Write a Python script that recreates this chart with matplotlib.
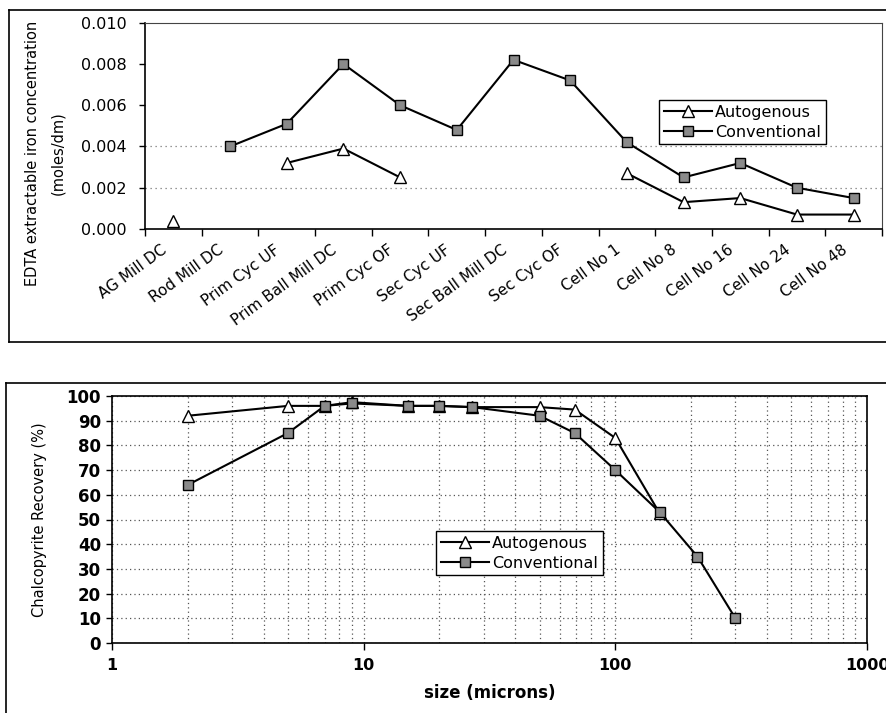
import numpy as np
import matplotlib
matplotlib.use('Agg')
import matplotlib.pyplot as plt
from matplotlib.lines import Line2D
from matplotlib.transforms import ScaledTranslation
from matplotlib.ticker import LogLocator, NullFormatter, FixedLocator, FuncFormatter

plt.rcParams['font.family'] = ['DejaVu Sans']

nan = np.nan

# EDTA extractable iron along the circuit (moles/dm)
stages = ['AG Mill DC', 'Rod Mill DC', 'Prim Cyc UF', 'Prim Ball Mill DC', 'Prim Cyc OF',
          'Sec Cyc UF', 'Sec Ball Mill DC', 'Sec Cyc OF', 'Cell No 1', 'Cell No 8',
          'Cell No 16', 'Cell No 24', 'Cell No 48']
iron_autogenous = [0.0004, nan, 0.0032, 0.0039, 0.0025, nan, nan, nan,
                   0.0027, 0.0013, 0.0015, 0.0007, 0.0007]
iron_conventional = [nan, 0.0040, 0.0051, 0.0080, 0.0060, 0.0048, 0.0082, 0.0072,
                     0.0042, 0.0025, 0.0032, 0.0020, 0.0015]
iron_ticks = [0.000, 0.002, 0.004, 0.006, 0.008, 0.010]

# chalcopyrite recovery by size
size_autogenous = [2, 5, 7, 9, 15, 20, 27, 50, 69, 100, 150]
rec_autogenous = [92, 96, 96, 97.5, 96, 96, 95.5, 95.5, 94.5, 83, 52.5]
size_conventional = [2, 5, 7, 9, 15, 20, 27, 50, 69, 100, 150, 212, 300]
rec_conventional = [64, 85, 96, 97, 96, 96, 95.5, 92, 85, 70, 53, 35, 10]

W, H = 887, 713
fig = plt.figure(figsize=(W / 100, H / 100), dpi=100)


def box(x0, y0, x1, y1):
    # pixel box (top-left origin) -> figure fraction rect
    return [x0 / W, 1 - y1 / H, (x1 - x0) / W, (y1 - y0) / H]


def fline(xs, ys, lw=1.2):
    fig.add_artist(Line2D([x / W for x in xs], [1 - y / H for y in ys],
                          color='black', lw=lw, transform=fig.transFigure))


# outer frames around the two charts
fline([9.5, 9.5], [10, 342])
fline([9.5, 887], [10, 10])
fline([9.5, 887], [342, 342])
fline([6, 6], [383, 713])
fline([6, 887], [383, 383])

sq = dict(marker='s', markersize=7.5, markerfacecolor='#8a8a8a',
          markeredgecolor='black', markeredgewidth=1.0)
tri = dict(marker='^', markersize=9, markerfacecolor='white',
           markeredgecolor='black', markeredgewidth=1.0)

# ---- top chart ----
ax1 = fig.add_axes(box(145, 22.7, 882, 229))
x = np.arange(len(stages))
ax1.plot(x, iron_autogenous, color='black', lw=1.5, label='Autogenous', **tri)
ax1.plot(x, iron_conventional, color='black', lw=1.5, label='Conventional', **sq)
for lev in (0.002, 0.004):
    ax1.axhline(lev, color='#777777', lw=0.9, ls=(0, (1, 3)), zorder=0)

ax1.set_xlim(-0.5, len(stages) - 0.5)
ax1.set_ylim(0, 0.010)
ax1.set_yticks(iron_ticks)
ax1.yaxis.set_major_formatter(FuncFormatter(lambda v, p: f'{v:.3f}'))
ax1.tick_params(axis='y', labelsize=11.5, length=4, width=1, pad=9, direction='out')

ax1.xaxis.set_major_locator(FixedLocator(np.arange(-0.5, len(stages), 1)))
ax1.xaxis.set_major_formatter(NullFormatter())
ax1.xaxis.set_minor_locator(FixedLocator(x))
ax1.set_xticklabels(stages, minor=True)
ax1.tick_params(axis='x', which='major', length=5, width=1, direction='out')
ax1.tick_params(axis='x', which='minor', length=0, pad=14, labelsize=11)
off = ScaledTranslation(-6 / 72, 0, fig.dpi_scale_trans)
for lab in ax1.get_xticklabels(minor=True):
    lab.set_rotation(36)
    lab.set_ha('right')
    lab.set_va('center')
    lab.set_rotation_mode('anchor')
    lab.set_transform(lab.get_transform() + off)

for s in ('left', 'bottom'):
    ax1.spines[s].set_linewidth(1.2)
for s in ('top', 'right'):
    ax1.spines[s].set_linewidth(0.8)
    ax1.spines[s].set_color('#444444')

fig.text(33 / W, 1 - 153 / H, 'EDTA extractable iron concentration', rotation=90,
         ha='center', va='center', fontsize=10.5)
fig.text(58 / W, 1 - 153 / H, '(moles/dm)', rotation=90,
         ha='center', va='center', fontsize=10.5)

leg1 = ax1.legend(loc='upper left', bbox_to_anchor=(659 / W, 1 - 100 / H),
                  bbox_transform=fig.transFigure, fontsize=11.5, frameon=True,
                  fancybox=False, edgecolor='black', framealpha=1,
                  handlelength=3.0, handletextpad=0.2, borderpad=0.3,
                  labelspacing=0.3, borderaxespad=0)
leg1.get_frame().set_linewidth(1.0)

# ---- bottom chart ----
ax2 = fig.add_axes(box(112, 396, 867, 643))
ax2.plot(size_autogenous, rec_autogenous, color='black', lw=1.5,
         label='Autogenous', **tri)
ax2.plot(size_conventional, rec_conventional, color='black', lw=1.5,
         label='Conventional', **sq)
ax2.set_xscale('log')
ax2.set_xlim(1, 1000)
ax2.set_ylim(0, 100)
ax2.set_yticks(np.arange(0, 101, 10))
ax2.xaxis.set_major_locator(LogLocator(base=10))
ax2.xaxis.set_minor_locator(LogLocator(base=10, subs=np.arange(2, 10)))
ax2.xaxis.set_minor_formatter(NullFormatter())
ax2.xaxis.set_major_formatter(FuncFormatter(lambda v, p: f'{v:g}'))
ax2.grid(True, which='both', color='#555555', lw=0.9, ls=(0, (1, 2.5)))
ax2.set_axisbelow(True)
ax2.tick_params(axis='x', which='minor', length=0)
ax2.tick_params(axis='x', which='major', length=5, width=1, pad=6,
                labelsize=11.5, direction='out')
ax2.tick_params(axis='y', length=4, width=1, pad=4, labelsize=12, direction='out')
for lab in ax2.get_xticklabels() + ax2.get_yticklabels():
    lab.set_fontweight('bold')
for s in ax2.spines.values():
    s.set_linewidth(1.2)

ax2.set_xlabel('size (microns)', fontsize=12, fontweight='bold', labelpad=8)
fig.text(40 / W, 1 - 520 / H, 'Chalcopyrite Recovery (%)', rotation=90,
         ha='center', va='center', fontsize=10.5)

leg2 = ax2.legend(loc='upper left', bbox_to_anchor=(436 / W, 1 - 531 / H),
                  bbox_transform=fig.transFigure, fontsize=11.5, frameon=True,
                  fancybox=False, edgecolor='black', framealpha=1,
                  handlelength=3.0, handletextpad=0.2, borderpad=0.3,
                  labelspacing=0.3, borderaxespad=0)
leg2.get_frame().set_linewidth(1.0)

fig.savefig('out.png', dpi=100)
